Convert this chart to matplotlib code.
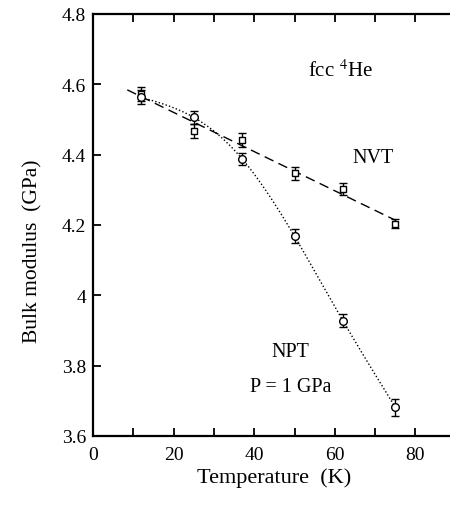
import numpy as np
import matplotlib
matplotlib.use("Agg")
import matplotlib.pyplot as plt
from matplotlib.ticker import MultipleLocator

# temperatures (K)
temp = [12, 25, 37, 50, 62, 75]

# NVT bulk modulus (GPa) and error bars
nvt_b = [4.573, 4.468, 4.442, 4.347, 4.302, 4.203]
nvt_err = [0.020, 0.020, 0.020, 0.019, 0.018, 0.013]

# NPT (P = 1 GPa) bulk modulus (GPa) and error bars
npt_b = [4.563, 4.506, 4.388, 4.168, 3.928, 3.682]
npt_err = [0.020, 0.018, 0.018, 0.020, 0.019, 0.024]


def natural_spline(x, y, xs):
    """natural cubic spline through (x, y), evaluated at xs"""
    x = np.asarray(x, float)
    y = np.asarray(y, float)
    n = len(x)
    h = np.diff(x)
    A = np.zeros((n, n))
    r = np.zeros(n)
    A[0, 0] = A[-1, -1] = 1.0
    for i in range(1, n - 1):
        A[i, i - 1] = h[i - 1]
        A[i, i] = 2 * (h[i - 1] + h[i])
        A[i, i + 1] = h[i]
        r[i] = 3 * ((y[i + 1] - y[i]) / h[i] - (y[i] - y[i - 1]) / h[i - 1])
    c = np.linalg.solve(A, r)
    b = (y[1:] - y[:-1]) / h - h * (2 * c[:-1] + c[1:]) / 3
    d = (c[1:] - c[:-1]) / (3 * h)
    k = np.clip(np.searchsorted(x, xs) - 1, 0, n - 2)
    dx = xs - x[k]
    return y[k] + b[k] * dx + c[k] * dx**2 + d[k] * dx**3


plt.rcParams['font.family'] = ['Liberation Serif', 'DejaVu Serif']
plt.rcParams['mathtext.fontset'] = 'stix'

fig = plt.figure(figsize=(4.5, 5.06), dpi=100)
ax = fig.add_axes([0.2067, 0.1364, 0.806, 0.834])

# guide lines
t_nvt = np.linspace(8.5, 75, 200)
t_npt = np.linspace(12, 75, 300)
p_nvt = np.polyfit(temp, nvt_b, 1)
ax.plot(t_nvt, np.polyval(p_nvt, t_nvt), color="black", lw=1.0, ls=(0, (7, 4)))
ax.plot(t_npt, natural_spline(temp, npt_b, t_npt), color="black", lw=1.0,
        ls=(0, (1, 1.6)))

ax.errorbar(temp, nvt_b, yerr=nvt_err, fmt="s", ms=5, mfc="white", mec="black",
            mew=1.0, ecolor="black", elinewidth=1.0, capsize=3, capthick=1.0)
ax.errorbar(temp, npt_b, yerr=npt_err, fmt="o", ms=5.5, mfc="white", mec="black",
            mew=1.0, ecolor="black", elinewidth=1.0, capsize=3, capthick=1.0)

ax.text(53.3, 4.64, r"fcc $^4$He", fontsize=15, va="center")
ax.text(64.3, 4.393, "NVT", fontsize=14.5, va="center")
ax.text(44.2, 3.839, "NPT", fontsize=14.5, va="center")
ax.text(39.0, 3.742, "P = 1 GPa", fontsize=14.5, va="center")

ax.set_xlim(0, 90)
ax.set_ylim(3.6, 4.8)
ax.xaxis.set_major_locator(MultipleLocator(20))
ax.xaxis.set_minor_locator(MultipleLocator(10))
ax.set_yticks([3.6, 3.8, 4.0, 4.2, 4.4, 4.6, 4.8])
ax.set_yticklabels(["3.6", "3.8", "4", "4.2", "4.4", "4.6", "4.8"])

ax.tick_params(axis="both", which="both", direction="in", top=True, right=False,
               labelsize=14, width=1.3, length=6)
ax.tick_params(axis="x", pad=7)
ax.tick_params(axis="y", pad=5)
for s in ax.spines.values():
    s.set_linewidth(1.6)

ax.set_xlabel("Temperature  (K)", fontsize=16, labelpad=3)
ax.set_ylabel("Bulk modulus  (GPa)", fontsize=15.5)
ax.yaxis.set_label_coords(-0.14, 0.44)

fig.savefig("out.png", dpi=100)
